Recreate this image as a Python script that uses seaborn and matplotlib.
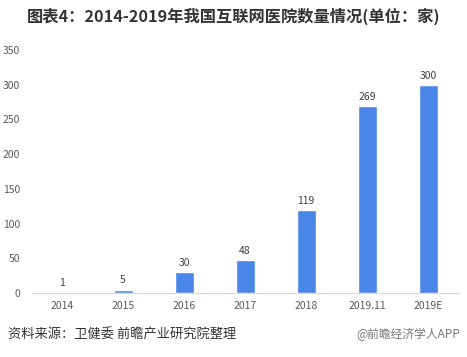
import matplotlib
matplotlib.use("Agg")
import matplotlib.pyplot as plt
import seaborn as sns
import pandas as pd

categories = ["2014", "2015", "2016", "2017", "2018", "2019.11", "2019E"]
values = [1, 5, 30, 48, 119, 269, 300]
yticks = [0, 50, 100, 150, 200, 250, 300, 350]

sns.set_theme(style="white")
plt.rcParams['font.family'] = ['Noto Sans CJK SC', 'DejaVu Sans']

df = pd.DataFrame({"year": categories, "count": values})

fig = plt.figure(figsize=(4.67, 3.57), dpi=100)
ax = fig.add_axes([0.0675, 0.179, 0.915, 0.681])
sns.barplot(data=df, x="year", y="count", color="#4A86E8", width=0.31,
            saturation=1, ax=ax)

for i, v in enumerate(values):
    ax.text(i, v + 6, str(v), ha="center", va="bottom", fontsize=7.5, color="#404040")

ax.set_ylim(0, 350)
ax.set_yticks(yticks)
ax.set_xlim(-0.5, len(categories) - 0.5)
ax.set_xlabel("")
ax.set_ylabel("")
ax.tick_params(axis="both", length=0, labelsize=7.5, colors="#595959")
ax.tick_params(axis="y", pad=8)
ax.tick_params(axis="x", pad=6)
for s in ["top", "right", "left"]:
    ax.spines[s].set_visible(False)
ax.spines["bottom"].set_color("#D9D9D9")
ax.spines["bottom"].set_linewidth(0.8)

fig.text(0.058, 0.955, "图表4：2014-2019年我国互联网医院数量情况(单位：家)",
         fontsize=11.7, fontweight="bold", color="#333333", ha="left", va="center")
fig.text(0.017, 0.062, "资料来源：卫健委 前瞻产业研究院整理",
         fontsize=9.5, color="#333333", ha="left", va="center")
fig.text(0.985, 0.062, "@前瞻经济学人APP",
         fontsize=8.5, color="#777777", ha="right", va="center")

fig.savefig("out.png", dpi=100)
